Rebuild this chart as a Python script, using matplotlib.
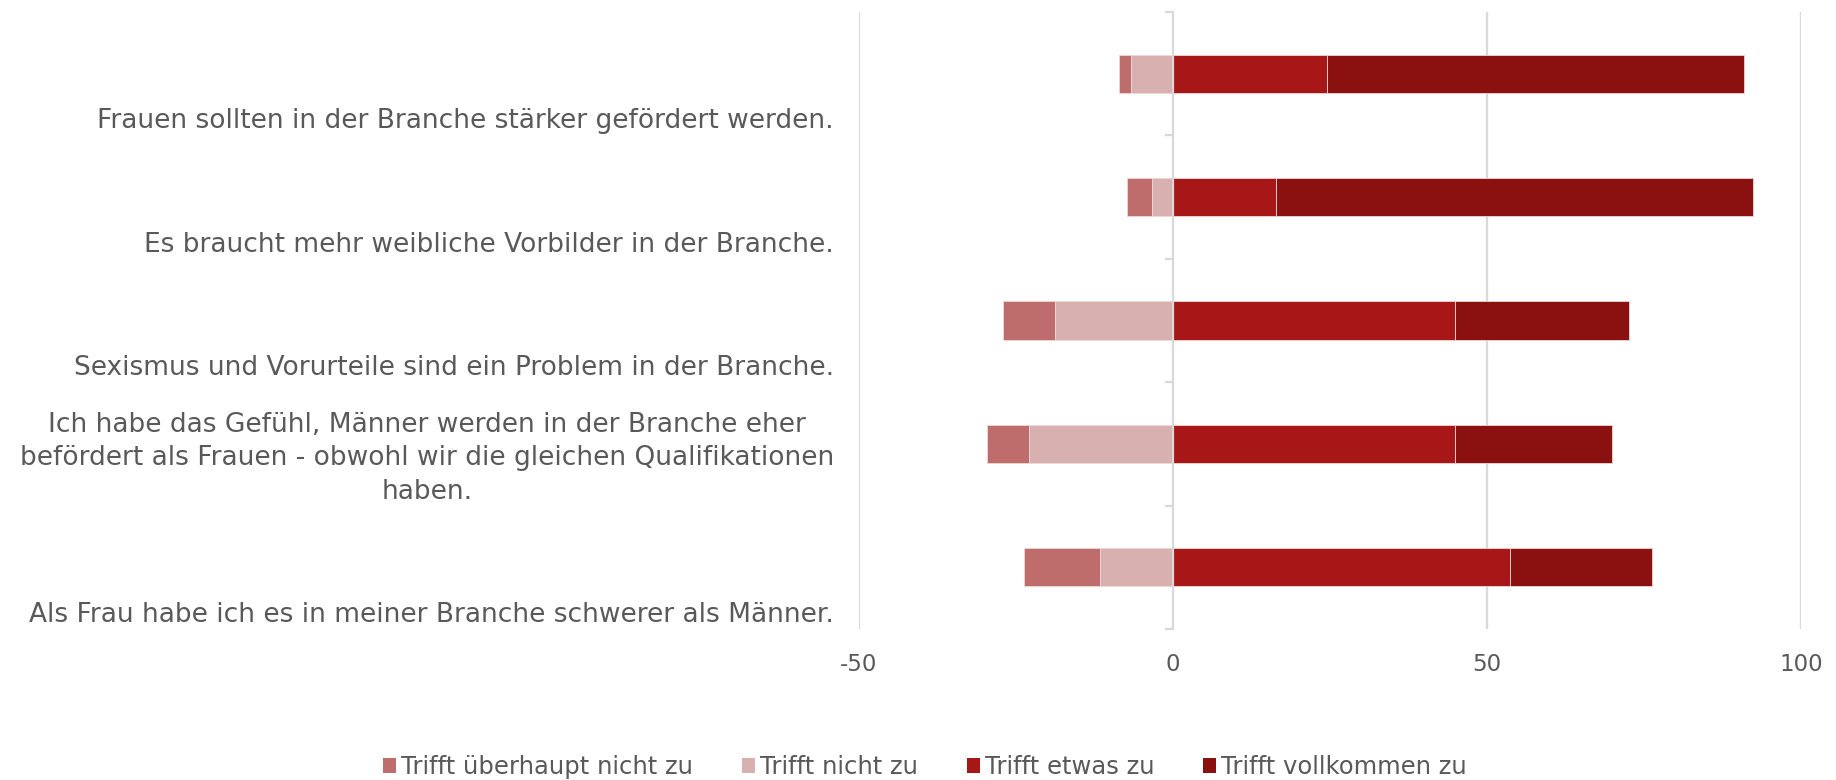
"""
plot.py
Diverging stacked bar chart of agreement answers (Likert scale).
"""
# !/usr/bin/env python3

import matplotlib
matplotlib.use('Agg')
import matplotlib.pyplot as plt
import matplotlib.transforms as mtransforms
from matplotlib.patches import Patch
import numpy as np

# statements, from top to bottom
statements = [
    'Frauen sollten in der Branche stärker gefördert werden.',
    'Es braucht mehr weibliche Vorbilder in der Branche.',
    'Sexismus und Vorurteile sind ein Problem in der Branche.',
    'Ich habe das Gefühl, Männer werden in der Branche eher\n'
    'befördert als Frauen - obwohl wir die gleichen Qualifikationen\nhaben.',
    'Als Frau habe ich es in meiner Branche schwerer als Männer.',
]

# shares in percent (negative side: disagreement)
trifft_ueberhaupt_nicht = [1.9, 3.9, 8.2, 6.7, 12.1]
trifft_nicht = [6.7, 3.4, 18.8, 22.9, 11.6]
trifft_etwas = [24.5, 16.4, 44.9, 44.9, 53.7]
trifft_vollkommen = [66.5, 75.9, 27.7, 25.0, 22.5]

legend_labels = ['Trifft überhaupt nicht zu', 'Trifft nicht zu',
                 'Trifft etwas zu', 'Trifft vollkommen zu']
x_ticks = [-50, 0, 50, 100]

COLORS = ['#BF6C6C', '#D8B0B0', '#A71717', '#8B1010']
GRID = '#D9D9D9'
TEXT = '#595959'


def plot_data():
    fig = plt.figure(figsize=(18.36, 7.8), dpi=100)
    ax = fig.add_axes([859 / 1836, 1 - 629 / 780, 942 / 1836, 617 / 780])

    y = np.arange(len(statements))
    nicht = np.array(trifft_nicht)
    ueberhaupt = np.array(trifft_ueberhaupt_nicht)
    etwas = np.array(trifft_etwas)
    voll = np.array(trifft_vollkommen)

    h = 0.31
    kw = dict(height=h, edgecolor='#EED6D6', linewidth=0.6, zorder=3)
    ax.barh(y, -ueberhaupt, left=-nicht, color=COLORS[0], **kw)
    ax.barh(y, -nicht, color=COLORS[1], **kw)
    ax.barh(y, etwas, color=COLORS[2], **kw)
    ax.barh(y, voll, left=etwas, color=COLORS[3], **kw)

    ax.set_xlim(-50, 100)
    ax.set_ylim(len(statements) - 0.5, -0.5)

    # vertical gridlines
    for xv in x_ticks:
        if xv != 0:
            ax.axvline(xv, color=GRID, lw=1.6, zorder=1)

    for s in ['top', 'right', 'bottom']:
        ax.spines[s].set_visible(False)
    ax.spines['left'].set_position(('data', 0))
    ax.spines['left'].set_color(GRID)
    ax.spines['left'].set_linewidth(1.6)
    ax.spines['left'].set_zorder(4)

    bounds = np.arange(len(statements) + 1) - 0.5
    ax.set_yticks(bounds)
    ax.set_yticklabels([])
    ax.tick_params(axis='y', direction='out', length=6, width=1.6, color=GRID)

    ax.set_xticks(x_ticks)
    ax.set_xticklabels([str(v) for v in x_ticks])
    ax.tick_params(axis='x', length=0, pad=17, labelsize=16.5, labelcolor=TEXT)

    # category labels, bottom aligned to each band
    trans = mtransforms.blended_transform_factory(fig.transFigure, ax.transData)
    for i, txt in enumerate(statements):
        ax.annotate(txt, xy=(834 / 1836, i + 0.5), xycoords=trans,
                    xytext=(0, 5), textcoords='offset points',
                    ha='right', va='baseline', multialignment='center',
                    fontsize=19, color=TEXT, linespacing=1.37,
                    annotation_clip=False)

    handles = [Patch(facecolor=c, edgecolor='none') for c in COLORS]
    fig.legend(handles, legend_labels, loc='center', ncol=4,
               bbox_to_anchor=(925 / 1836, 1 - 767 / 780), frameon=False,
               fontsize=17.5, labelcolor=TEXT, handlelength=0.55,
               handleheight=0.55, handletextpad=0.2, columnspacing=2.0)

    fig.savefig('out.png', dpi=100, facecolor='white')


def main():
    plot_data()
    return 0


if __name__ == "__main__":
    main()
